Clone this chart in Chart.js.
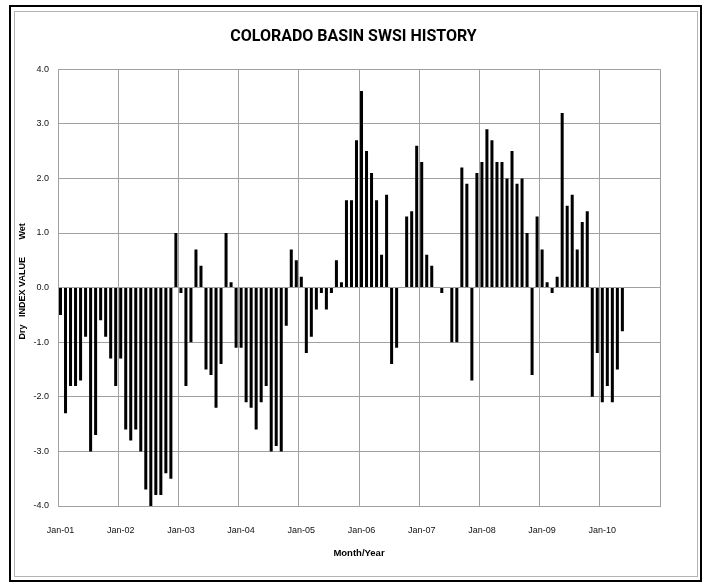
<!DOCTYPE html>
<html>
<head>
<meta charset="utf-8">
<title>Colorado Basin SWSI History</title>
<script src="https://cdn.jsdelivr.net/npm/chart.js@4.4.1/dist/chart.umd.min.js"></script>
<style>
  html, body { margin: 0; padding: 0; background: #fff; }
  #wrap { width: 707px; height: 583px; }
</style>
</head>
<body>
<div id="wrap"><canvas id="swsiChart" width="707" height="583"></canvas></div>
<script>
// monthly SWSI values, one array per year
const years = ['01', '02', '03', '04', '05', '06', '07', '08', '09', '10'];
const monthNames = ['Jan', 'Feb', 'Mar', 'Apr', 'May', 'Jun', 'Jul', 'Aug', 'Sep', 'Oct', 'Nov', 'Dec'];
const tickLabels = ['Jan-01', 'Jan-02', 'Jan-03', 'Jan-04', 'Jan-05', 'Jan-06', 'Jan-07', 'Jan-08', 'Jan-09', 'Jan-10'];

const swsi2001 = [-0.5, -2.3, -1.8, -1.8, -1.7, -0.9, -3.0, -2.7, -0.6, -0.9, -1.3, -1.8];
const swsi2002 = [-1.3, -2.6, -2.8, -2.6, -3.0, -3.7, -4.0, -3.8, -3.8, -3.4, -3.5, 1.0];
const swsi2003 = [-0.1, -1.8, -1.0, 0.7, 0.4, -1.5, -1.6, -2.2, -1.4, 1.0, 0.1, -1.1];
const swsi2004 = [-1.1, -2.1, -2.2, -2.6, -2.1, -1.8, -3.0, -2.9, -3.0, -0.7, 0.7, 0.5];
const swsi2005 = [0.2, -1.2, -0.9, -0.4, -0.1, -0.4, -0.1, 0.5, 0.1, 1.6, 1.6, 2.7];
const swsi2006 = [3.6, 2.5, 2.1, 1.6, 0.6, 1.7, -1.4, -1.1, 0, 1.3, 1.4, 2.6];
const swsi2007 = [2.3, 0.6, 0.4, 0, -0.1, 0, -1.0, -1.0, 2.2, 1.9, -1.7, 2.1];
const swsi2008 = [2.3, 2.9, 2.7, 2.3, 2.3, 2.0, 2.5, 1.9, 2.0, 1.0, -1.6, 1.3];
const swsi2009 = [0.7, 0.1, -0.1, 0.2, 3.2, 1.5, 1.7, 0.7, 1.2, 1.4, -2.0, -1.2];
const swsi2010 = [-2.1, -1.8, -2.1, -1.5, -0.8];

const values = [].concat(swsi2001, swsi2002, swsi2003, swsi2004, swsi2005,
                         swsi2006, swsi2007, swsi2008, swsi2009, swsi2010);

// one category per month, Jan-01 .. Dec-10
const labels = [];
years.forEach(y => monthNames.forEach(m => labels.push(m + '-' + y)));

const FONT = "'Liberation Sans', Arial, sans-serif";
const TITLE_FONT = "Roboto, 'Liberation Sans', sans-serif";
const GRID = '#a0a0a0';

// the two frames around the chart (black outer, light gray inner)
const framePlugin = {
    id: 'frames',
    afterDraw(chart) {
        const ctx = chart.ctx;
        ctx.save();
        ctx.strokeStyle = '#000';
        ctx.lineWidth = 2;
        ctx.strokeRect(10, 6, 691, 575);
        ctx.strokeStyle = '#b4b4b4';
        ctx.lineWidth = 1;
        ctx.strokeRect(14.5, 11.5, 683, 565);
        ctx.restore();
    }
};

const swsiChart = new Chart(document.getElementById('swsiChart').getContext('2d'), {
    type: 'bar',
    data: {
        labels: labels,
        datasets: [{
            label: 'SWSI',
            data: values,
            backgroundColor: '#000',
            borderWidth: 0,
            barPercentage: 0.6,
            categoryPercentage: 1.0
        }]
    },
    options: {
        responsive: false,
        animation: false,
        layout: { padding: 0 },
        plugins: {
            legend: { display: false },
            tooltip: { enabled: false },
            title: {
                display: true,
                text: 'COLORADO BASIN SWSI HISTORY',
                color: '#000',
                font: { family: TITLE_FONT, size: 16, weight: 'bold' },
                padding: { top: 27, bottom: 23 }
            }
        },
        scales: {
            x: {
                offset: true,
                grid: {
                    offset: true,
                    drawTicks: false,
                    color: ctx => (ctx.index === undefined || ctx.index % 12 === 0) ? GRID : 'rgba(0,0,0,0)'
                },
                border: { display: true, color: GRID },
                ticks: {
                    autoSkip: false,
                    maxRotation: 0,
                    minRotation: 0,
                    padding: 19,
                    color: '#111',
                    font: { family: FONT, size: 9 },
                    callback: (val, i) => (i % 12 === 0) ? tickLabels[i / 12] : ''
                },
                title: {
                    display: true,
                    text: 'Month/Year',
                    color: '#000',
                    font: { family: FONT, size: 9.5, weight: 'bold' },
                    padding: { top: 4, bottom: 24 }
                },
                afterFit: scale => { scale.height = 77; }
            },
            y: {
                min: -4,
                max: 4,
                grid: { color: GRID, drawTicks: false },
                border: { display: true, color: GRID },
                ticks: {
                    stepSize: 1,
                    padding: 9,
                    color: '#111',
                    font: { family: FONT, size: 9 },
                    callback: v => v.toFixed(1)
                },
                title: {
                    display: true,
                    text: '     Dry   INDEX VALUE       Wet',
                    color: '#000',
                    font: { family: FONT, size: 9, weight: 'bold' },
                    padding: { top: 17, bottom: 4 }
                },
                afterFit: scale => { scale.width = 58; }
            },
            // empty right-hand axis, only keeps the plot off the right edge
            yRight: {
                position: 'right',
                grid: { display: false },
                border: { display: false },
                ticks: { display: false },
                afterFit: scale => { scale.width = 47; }
            }
        }
    },
    plugins: [framePlugin]
});
</script>
</body>
</html>
